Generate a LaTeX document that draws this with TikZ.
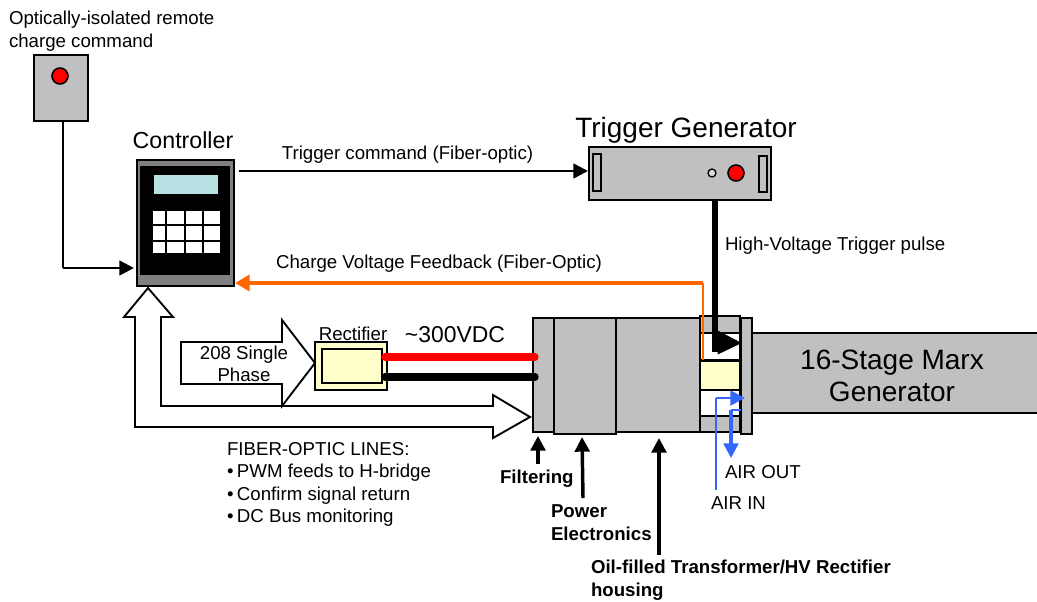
\documentclass[tikz,border=0pt]{standalone}
\usepackage{fontspec}
\setmainfont{Liberation Sans}
\usepackage{xcolor}
\usetikzlibrary{arrows.meta, positioning}
\definecolor{panelgray}{HTML}{C0C0C0}
\definecolor{darkgray}{HTML}{808080}
\definecolor{screenblue}{HTML}{B9E0E3}
\definecolor{paleyellow}{HTML}{FFFFCC}
\definecolor{fiberorange}{HTML}{FF6600}
\definecolor{airblue}{HTML}{3366FF}
\newcommand\px{0.75pt}
\tikzstyle{panel} = [rectangle, draw=black, fill=panelgray, line width=1.5pt, inner sep=0pt, outer sep=0pt]
\tikzstyle{lamp} = [circle, draw=black, fill=red, line width=1.2pt, inner sep=0pt, minimum size=16*\px]
\tikzstyle{textnote} = [inner sep=0pt, outer sep=0pt, anchor=west, font=\fontsize{14}{14}\selectfont, align=left]
\tikzstyle{boldnote} = [textnote, font=\fontsize{14}{17}\selectfont\bfseries]
\tikzstyle{wire} = [line width=1.9pt, -{Triangle[length=11pt,width=11pt]}]
\tikzstyle{pointer} = [line width=2.6pt, -{Triangle[length=11pt,width=11pt]}]
\tikzstyle{airline} = [airblue, line width=1.5pt]
\tikzstyle{bigarrow} = [draw=black, fill=white, line width=1.4pt, line join=miter]
\begin{document}
\begin{tikzpicture}[x=0.75pt, y=-0.75pt]
\useasboundingbox (0,0) rectangle (1037,601);
%----------------------------------------------------------------------------
% Remote command box
\node (remoteText) [textnote, font=\fontsize{14}{17}\selectfont] at (9,31) {Optically-isolated remote\\charge command};
\node (remoteBox) [panel, minimum width=54*\px, minimum height=66*\px] at (61,88) {};
\node (remoteLamp) [lamp] at (60,76) {};

%----------------------------------------------------------------------------
% Controller
\node (controllerText) [textnote, anchor=center, font=\fontsize{17.4}{17.4}\selectfont] at (183,140) {Controller};
\node (controller) [panel, fill=darkgray, minimum width=97*\px, minimum height=126*\px] at (185.5,223) {};
\node (controllerFace) [rectangle, fill=black, minimum width=90*\px, minimum height=109*\px, inner sep=0pt] at (185,220.5) {};
\node (screen) [rectangle, fill=screenblue, draw=black, line width=0.8pt, minimum width=66*\px, minimum height=21*\px, inner sep=0pt] at (186,184.5) {};
\node (keypad) [rectangle, fill=white, minimum width=67*\px, minimum height=42*\px, inner sep=0pt] at (186.5,232) {};
\foreach \keyx in {166,185,203} {
	\draw [line width=1.2pt] (\keyx,211) -- (\keyx,253);
}
\foreach \keyy in {225,241} {
	\draw [line width=1.2pt] (153,\keyy) -- (220,\keyy);
}

%----------------------------------------------------------------------------
% Trigger generator
\node (triggerText) [textnote, anchor=center, font=\fontsize{21}{21}\selectfont] at (686,130) {Trigger Generator};
\node (trigger) [panel, minimum width=182*\px, minimum height=53*\px] at (680,173.5) {};
\node (slotLeft) [panel, line width=1pt, minimum width=8*\px, minimum height=37*\px] at (597,172.5) {};
\node (slotRight) [panel, line width=1pt, minimum width=8*\px, minimum height=36*\px] at (763,174) {};
\node (triggerLed) [lamp, fill=panelgray!60, line width=1pt, minimum size=8*\px] at (712,173) {};
\node (triggerLamp) [lamp] at (736,173) {};

%----------------------------------------------------------------------------
% Marx generator and charger housing
\node (marx) [panel, minimum width=290*\px, minimum height=80*\px] at (897,373) {};
\node (marxText) [textnote, anchor=center, align=center, font=\fontsize{21}{24}\selectfont] at (892,375.5) {16-Stage Marx\\Generator};
\node (filterBlock) [panel, minimum width=21*\px, minimum height=114*\px] at (543.5,375) {};
\node (powerBlock) [panel, minimum width=62*\px, minimum height=116*\px] at (585,376) {};
\node (oilBlock) [panel, minimum width=84*\px, minimum height=114*\px] at (658,375) {};
\node (hvBlock) [panel, minimum width=40*\px, minimum height=116*\px] at (720,374) {};
\node (hvWindowTop) [panel, fill=white, minimum width=40*\px, minimum height=27*\px] at (720,346.5) {};
\node (hvRectifier) [panel, fill=paleyellow, minimum width=40*\px, minimum height=29*\px] at (720,375) {};
\node (hvWindowLow) [panel, fill=white, minimum width=40*\px, minimum height=26*\px] at (720,403) {};
\node (flange) [panel, minimum width=11*\px, minimum height=116*\px] at (746.5,376) {};

%----------------------------------------------------------------------------
% Rectifier
\node (rectifierText) [textnote, anchor=center] at (353,334) {Rectifier};
\node (rectifier) [panel, fill=paleyellow, line width=1.2pt, minimum width=72*\px, minimum height=48*\px] at (351,366) {};
\node (rectifierInner) [panel, fill=paleyellow, line width=1.2pt, minimum width=60*\px, minimum height=34*\px] at (352,366) {};
\node (dcText) [textnote, anchor=center, font=\fontsize{17.2}{17.2}\selectfont] at (455,335) {\textasciitilde 300VDC};
\coordinate (redStart) at (385,357);
\coordinate (redEnd) at (535,357);
\coordinate (blackStart) at (385,377);
\coordinate (blackEnd) at (535,377);
\draw [red, line width=5.5pt, line cap=round] (redStart) -- (redEnd);
\draw [black, line width=5.5pt, line cap=round] (blackStart) -- (blackEnd);

%----------------------------------------------------------------------------
% Big outline arrows
\draw [bigarrow] (148,288) -- (173,317) -- (161,317) -- (161,406) -- (493,406) -- (493,395)
	-- (530,417) -- (493,438) -- (493,427) -- (135,427) -- (135,317) -- (124,317) -- cycle;
\draw [bigarrow] (181,342) -- (282,342) -- (282,320) -- (315,363) -- (282,406) -- (282,384) -- (181,384) -- cycle;
\node (phaseText) [textnote, anchor=center, align=center, font=\fontsize{14}{16.5}\selectfont] at (244,364) {208 Single\\Phase};

%----------------------------------------------------------------------------
% Drawing of connectors
\coordinate (remoteDrop) at (63,268);
\coordinate (controllerIn) at (134,268);
\coordinate (remoteFoot) at (63,121);
\draw [line width=1.9pt] (remoteFoot) -- (remoteDrop);
\draw [wire] (remoteDrop) -- (controllerIn);

\coordinate (commandStart) at (239,171);
\coordinate (commandEnd) at (588,171);
\draw [wire] (commandStart) -- (commandEnd);
\node (commandText) [textnote, anchor=center] at (407.5,155) {Trigger command (Fiber-optic)};

\coordinate (feedbackFoot) at (703,360);
\coordinate (feedbackBend) at (703,283);
\coordinate (feedbackEnd) at (235,283);
\draw [fiberorange, line width=2.2pt] (feedbackFoot) -- (feedbackBend);
\draw [fiberorange, line width=3pt, -{Triangle[length=11pt,width=12pt]}] (feedbackBend) -- (feedbackEnd);
\node (feedbackText) [textnote, anchor=center] at (439,264) {Charge Voltage Feedback (Fiber-Optic)};

\coordinate (pulseStart) at (715,200);
\coordinate (pulseBend) at (715,343);
\coordinate (pulseEnd) at (741,343);
\draw [line width=5pt] (pulseStart) -- (715,352);
\draw [black, fill=black] (718,331) -- (pulseEnd) -- (718,354) -- cycle;
\node (pulseText) [textnote] at (725,246) {High-Voltage Trigger pulse};

%----------------------------------------------------------------------------
% Air lines
\coordinate (airInStart) at (716,490);
\coordinate (airInBend) at (716,398);
\coordinate (airInEnd) at (745,398);
\draw [airline, line width=2pt] (airInStart) -- (airInBend);
\draw [airline, line width=2.2pt, -{Triangle[length=11pt,width=11pt]}] (airInBend) -- (airInEnd);
\coordinate (airOutStart) at (741,410);
\coordinate (airOutBend) at (731,410);
\coordinate (airOutEnd) at (731,458);
\draw [airline, line width=1.6pt] (airOutStart) -- (airOutBend);
\draw [airline, line width=2.4pt, -{Triangle[length=11pt,width=11pt]}] (airOutBend) -- (airOutEnd);
\node (airOutText) [textnote] at (725,472) {AIR OUT};
\node (airInText) [textnote] at (711,503) {AIR IN};

%----------------------------------------------------------------------------
% Notes and pointers
\node (fiberText) [textnote, font=\fontsize{14}{16.8}\selectfont] at (227,484.5) {FIBER-OPTIC LINES:\\
\makebox[7.5pt][l]{\textbullet}PWM feeds to H-bridge\\
\makebox[7.5pt][l]{\textbullet}Confirm signal return\\
\makebox[7.5pt][l]{\textbullet}DC Bus monitoring};

\node (filterText) [boldnote] at (500,479) {Filtering};
\node (powerText) [boldnote] at (551,522.5) {Power\\Electronics};
\node (oilText) [boldnote] at (591,580.5) {Oil-filled Transformer/HV Rectifier\\housing};
\coordinate (filterTip) at (538,436);
\coordinate (powerTip) at (582,437);
\coordinate (oilTip) at (659,438);
\coordinate (filterTail) at (538,464);
\coordinate (powerTail) at (583,498);
\coordinate (oilTail) at (659,555);
\draw [pointer] (filterTail) -- (filterTip);
\draw [pointer] (powerTail) -- (powerTip);
\draw [pointer] (oilTail) -- (oilTip);
\end{tikzpicture}
\end{document}
